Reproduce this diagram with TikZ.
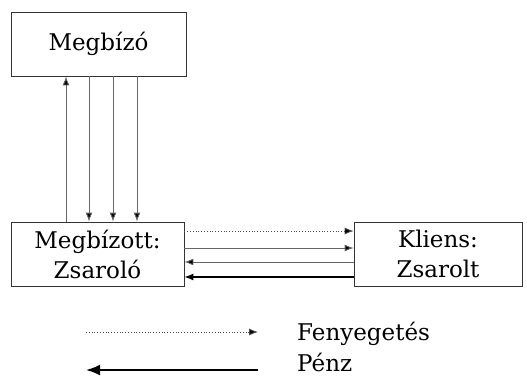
\documentclass[tikz,border=0pt]{standalone}
\usepackage{fontspec}
\setmainfont{DejaVu Serif}
\usetikzlibrary{arrows.meta}
\begin{document}
\begin{tikzpicture}[x=1pt,y=-1pt,
  box/.style={draw=black!80,line width=0.8pt,inner sep=0pt,font=\fontsize{23}{30}\selectfont,align=center},
  conn/.style={draw=black!60,line width=0.9pt,-{Latex[length=9pt,width=7pt,fill=black]}},
  dotconn/.style={draw=black!70,line width=0.8pt,dotted,-{Latex[length=9pt,width=7pt,fill=black]}},
  thick conn/.style={draw=black,line width=2pt,-{Latex[length=14pt,width=11pt,fill=black]}},
  legtext/.style={anchor=base west,inner sep=0pt,font=\fontsize{23}{30}\selectfont}]
\useasboundingbox (0,0) rectangle (527,378);
% boxes
\node[box,minimum width=175pt,minimum height=64pt] (A) at (98.5,44) {Megbízó};
\node[box,minimum width=173pt,minimum height=64pt] (B) at (97.5,254) {Megbízott:\\Zsaroló};
\node[box,minimum width=168pt,minimum height=64pt] (C) at (438,254) {Kliens:\\Zsarolt};
% vertical arrows
\draw[conn] (B.north -| 66,0) -- (A.south -| 66,0);
\draw[conn] (A.south -| 89,0) -- (B.north -| 89,0);
\draw[conn] (A.south -| 113,0) -- (B.north -| 113,0);
\draw[conn] (A.south -| 137,0) -- (B.north -| 137,0);
% horizontal arrows
\draw[dotconn] (B.east |- 0,231) -- (C.west |- 0,231);
\draw[conn] (B.east |- 0,248) -- (C.west |- 0,248);
\draw[conn] (C.west |- 0,262) -- (B.east |- 0,262);
\draw[conn,draw=black,line width=1.2pt] (C.west |- 0,277) -- (B.east |- 0,277);
% legend
\coordinate (l1s) at (86,332);
\coordinate (l1e) at (258,332);
\coordinate (l2s) at (258,370);
\coordinate (l2e) at (86,370);
\draw[dotconn] (l1s) -- (l1e);
\draw[thick conn] (l2s) -- (l2e);
\node[legtext] (t1) at (297,340) {Fenyegetés};
\node[legtext] (t2) at (297,371) {Pénz};
\end{tikzpicture}
\end{document}
